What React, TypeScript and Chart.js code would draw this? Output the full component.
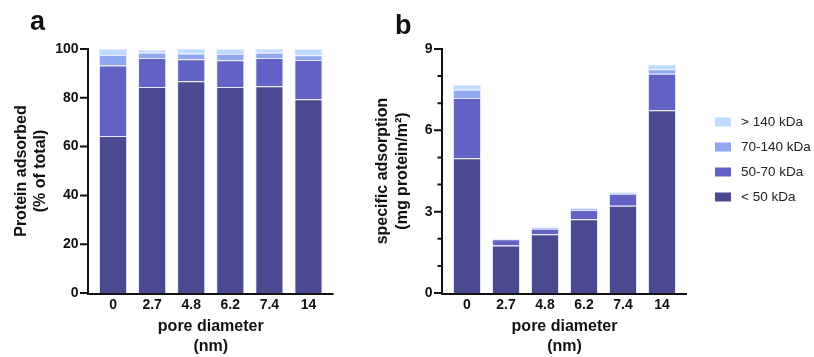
import { useEffect, useRef } from "react";
import { Chart, registerables } from "chart.js";

Chart.register(...registerables);

const poreDiameters = ["0", "2.7", "4.8", "6.2", "7.4", "14"];
const seriesLabels = ["< 50 kDa", "50-70 kDa", "70-140 kDa", "> 140 kDa"];

// Panel a: % of total
const pctUnder50 = [64.3, 84.4, 86.8, 84.4, 84.7, 79.4];
const pct50to70 = [28.9, 11.9, 9.0, 11.0, 11.6, 16.1];
const pct70to140 = [4.3, 2.2, 2.4, 2.5, 2.2, 1.9];
const pctOver140 = [2.5, 1.1, 1.8, 2.1, 1.5, 2.6];

// Panel b: specific adsorption (mg protein/m2)
const specUnder50 = [4.97, 1.75, 2.17, 2.72, 3.22, 6.74];
const spec50to70 = [2.22, 0.23, 0.2, 0.34, 0.44, 1.35];
const spec70to140 = [0.31, 0.02, 0.05, 0.05, 0.04, 0.16];
const specOver140 = [0.18, 0.01, 0.03, 0.03, 0.03, 0.18];

const pctMajorTicks = [0, 20, 40, 60, 80, 100];
const specMajorTicks = [0, 3, 6, 9];
const specMinorTicks = [1, 2, 4, 5, 7, 8];

const seriesColors = ["#4b4a91", "#6262c5", "#8fa8ef", "#bddcff"];
const FONT = "'Liberation Sans', Arial, Helvetica, sans-serif";
const INK = "#111111";

type Cfg = {
  series: number[][];
  yMax: number;
  yStep: number;
  majorTicks: number[];
  minorTicks: number[];
  yTitle: string[];
  yTitlePad: number;
  yTitleLH: number;
  yWidth: number;
  padRight: number;
  letter: string;
  letterX: number;
  letterY: number;
  legend: boolean;
};

function buildChart(canvas: HTMLCanvasElement, cfg: Cfg) {
  const axesPlugin = {
    id: "customAxes",
    afterDraw(chart: any) {
      const ctx = chart.ctx as CanvasRenderingContext2D;
      const { left, right, bottom } = chart.chartArea;
      const yScale = chart.scales.y;
      const axisX = left - 5.5;
      ctx.save();
      ctx.strokeStyle = INK;
      ctx.lineWidth = 2;
      ctx.beginPath();
      ctx.moveTo(axisX, yScale.getPixelForValue(cfg.yMax) - 1);
      ctx.lineTo(axisX, bottom + 1);
      ctx.moveTo(axisX - 1, bottom + 1);
      ctx.lineTo(right + 5.5, bottom + 1);
      ctx.stroke();
      ctx.beginPath();
      cfg.majorTicks.forEach((v) => {
        const y = yScale.getPixelForValue(v);
        ctx.moveTo(axisX - 8, y);
        ctx.lineTo(axisX, y);
      });
      cfg.minorTicks.forEach((v) => {
        const y = yScale.getPixelForValue(v);
        ctx.moveTo(axisX - 4.5, y);
        ctx.lineTo(axisX, y);
      });
      ctx.stroke();

      ctx.fillStyle = INK;
      ctx.font = `bold 27px ${FONT}`;
      ctx.textAlign = "left";
      ctx.textBaseline = "alphabetic";
      ctx.fillText(cfg.letter, cfg.letterX, cfg.letterY);

      if (cfg.legend) {
        const rowsY = [122, 147, 172, 197];
        const order = [3, 2, 1, 0];
        ctx.font = `13.5px ${FONT}`;
        ctx.textBaseline = "middle";
        order.forEach((si, i) => {
          const y = rowsY[i];
          ctx.fillStyle = seriesColors[si];
          ctx.fillRect(370, y - 4.5, 16, 9);
          ctx.fillStyle = "#222222";
          ctx.fillText(seriesLabels[si], 396, y + 0.5);
        });
      }
      ctx.restore();
    },
  };

  return new Chart(canvas, {
    type: "bar",
    data: {
      labels: poreDiameters,
      datasets: cfg.series.map((vals, i) => ({
        label: seriesLabels[i],
        data: vals,
        backgroundColor: seriesColors[i],
        borderColor: "#e6e8ff",
        borderWidth: 1,
        categoryPercentage: 1,
        barPercentage: 0.72,
      })),
    },
    plugins: [axesPlugin],
    options: {
      responsive: false,
      animation: false,
      devicePixelRatio: 1,
      layout: { padding: { left: 0, top: 49, right: cfg.padRight, bottom: 0 } },
      plugins: {
        legend: { display: false },
        tooltip: { enabled: false },
      },
      scales: {
        x: {
          stacked: true,
          grid: { display: false, drawTicks: false },
          border: { display: false },
          ticks: {
            color: INK,
            padding: 4,
            maxRotation: 0,
            font: { family: FONT, size: 14, weight: "bold" },
          },
          title: {
            display: true,
            text: ["pore diameter", "(nm)"],
            color: INK,
            padding: 0,
            font: { family: FONT, size: 16, weight: "bold", lineHeight: 1.25 },
          },
          afterFit: (s: any) => {
            s.height = 64;
          },
        },
        y: {
          stacked: true,
          min: 0,
          max: cfg.yMax,
          grid: { display: false, drawTicks: false },
          border: { display: false },
          ticks: {
            stepSize: cfg.yStep,
            color: INK,
            padding: 15,
            font: { family: FONT, size: 14, weight: "bold" },
          },
          title: {
            display: true,
            text: cfg.yTitle,
            color: INK,
            padding: { top: cfg.yTitlePad, bottom: 0 },
            font: { family: FONT, size: 16, weight: "bold", lineHeight: cfg.yTitleLH },
          },
          afterFit: (s: any) => {
            s.width = cfg.yWidth;
          },
        },
      },
    } as any,
  });
}

export default function App() {
  const refA = useRef<HTMLCanvasElement>(null);
  const refB = useRef<HTMLCanvasElement>(null);

  useEffect(() => {
    const a = buildChart(refA.current!, {
      series: [pctUnder50, pct50to70, pct70to140, pctOver140],
      yMax: 100,
      yStep: 20,
      majorTicks: pctMajorTicks,
      minorTicks: [],
      yTitle: ["Protein adsorbed", "(% of total)"],
      yTitlePad: 12.8,
      yTitleLH: 1.15,
      yWidth: 93.5,
      padRight: 17,
      letter: "a",
      letterX: 30,
      letterY: 30,
      legend: false,
    });
    const b = buildChart(refB.current!, {
      series: [specUnder50, spec50to70, spec70to140, specOver140],
      yMax: 9,
      yStep: 3,
      majorTicks: specMajorTicks,
      minorTicks: specMinorTicks,
      yTitle: ["specific adsorption", "(mg protein/m²)"],
      yTitlePad: 28,
      yTitleLH: 1.25,
      yWidth: 102.5,
      padRight: 132.5,
      letter: "b",
      letterX: 50,
      letterY: 34,
      legend: true,
    });
    return () => {
      a.destroy();
      b.destroy();
    };
  }, []);

  return (
    <div
      style={{
        position: "absolute",
        left: 0,
        top: 0,
        width: 814,
        height: 357,
        background: "#ffffff",
        overflow: "hidden",
      }}
    >
      <canvas
        ref={refA}
        width={345}
        height={357}
        style={{ position: "absolute", left: 0, top: 0, width: 345, height: 357 }}
      />
      <canvas
        ref={refB}
        width={469}
        height={357}
        style={{ position: "absolute", left: 345, top: 0, width: 469, height: 357 }}
      />
    </div>
  );
}
